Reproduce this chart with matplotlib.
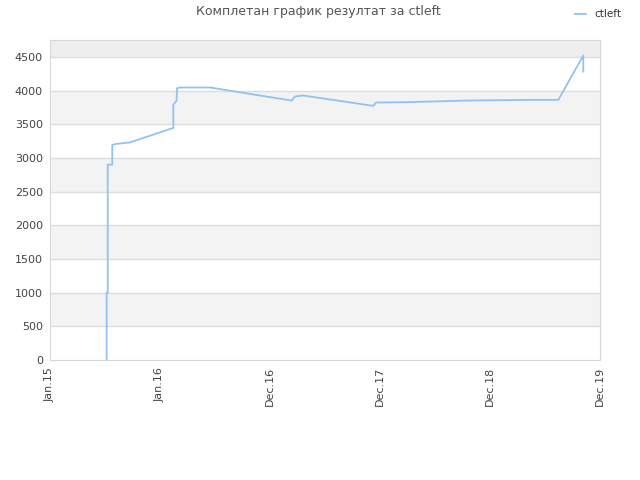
import matplotlib
matplotlib.use("Agg")
import matplotlib.pyplot as plt

# x in "tick units": 0 = Jan.15, 1 = Jan.16, 2 = Dec.16, ...
tick_labels = ["Jan.15", "Jan.16", "Dec.16", "Dec.17", "Dec.18", "Dec.19"]
x_vals = [0.515, 0.515, 0.525, 0.525, 0.566, 0.566, 0.591, 0.727, 1.121, 1.121,
          1.136, 1.150, 1.155, 1.182, 1.455, 1.909, 2.197, 2.227, 2.303, 2.939,
          2.964, 3.243, 3.788, 4.348, 4.621, 4.848, 4.848]
y_vals = [0, 1000, 1000, 2900, 2900, 3190, 3205, 3230, 3445, 3790,
          3820, 3846, 4035, 4045, 4045, 3926, 3851, 3911, 3926, 3772,
          3822, 3827, 3851, 3861, 3861, 4520, 4282]
y_max = 4750

fig = plt.figure(figsize=(6.4, 4.8), dpi=100)
ax = fig.add_axes([50 / 640, 120 / 480, 550 / 640, 320 / 480])

# alternating bands
for lo in range(0, 4750, 500):
    hi = min(lo + 500, y_max)
    if lo >= 4500:
        col = "#eeeeee"
    elif (lo // 500) % 2 == 1:
        col = "#f3f3f3"
    else:
        col = "#ffffff"
    ax.axhspan(lo, hi, color=col, zorder=0, lw=0)
for y in range(500, 4750, 500):
    ax.axhline(y, color="#dddddd", lw=1, zorder=1)

ax.plot(x_vals, y_vals, color="#93c2f2", lw=1.3, zorder=3, label="ctleft")

ax.set_xlim(0, 5)
ax.set_ylim(0, y_max)
ax.set_xticks(range(len(tick_labels)))
ax.set_xticklabels(tick_labels, rotation=90, fontsize=8, color="#444444")
ax.set_yticks(range(0, 4750, 500))
ax.set_yticklabels([str(v) for v in range(0, 4750, 500)], fontsize=8, color="#444444")
ax.tick_params(length=0, pad=5)
for s in ax.spines.values():
    s.set_color("#d8d8d8")

fig.text(318 / 640, 1 - 12 / 480, "Комплетан график резултат за ctleft",
         ha="center", va="center", fontsize=9, color="#555555")
leg = fig.legend(loc="upper right", bbox_to_anchor=(0.985, 1.0), frameon=False,
                 fontsize=7.5, handlelength=1.0, handletextpad=0.8)
for t in leg.get_texts():
    t.set_color("#333333")

fig.savefig("out.png", dpi=100)
